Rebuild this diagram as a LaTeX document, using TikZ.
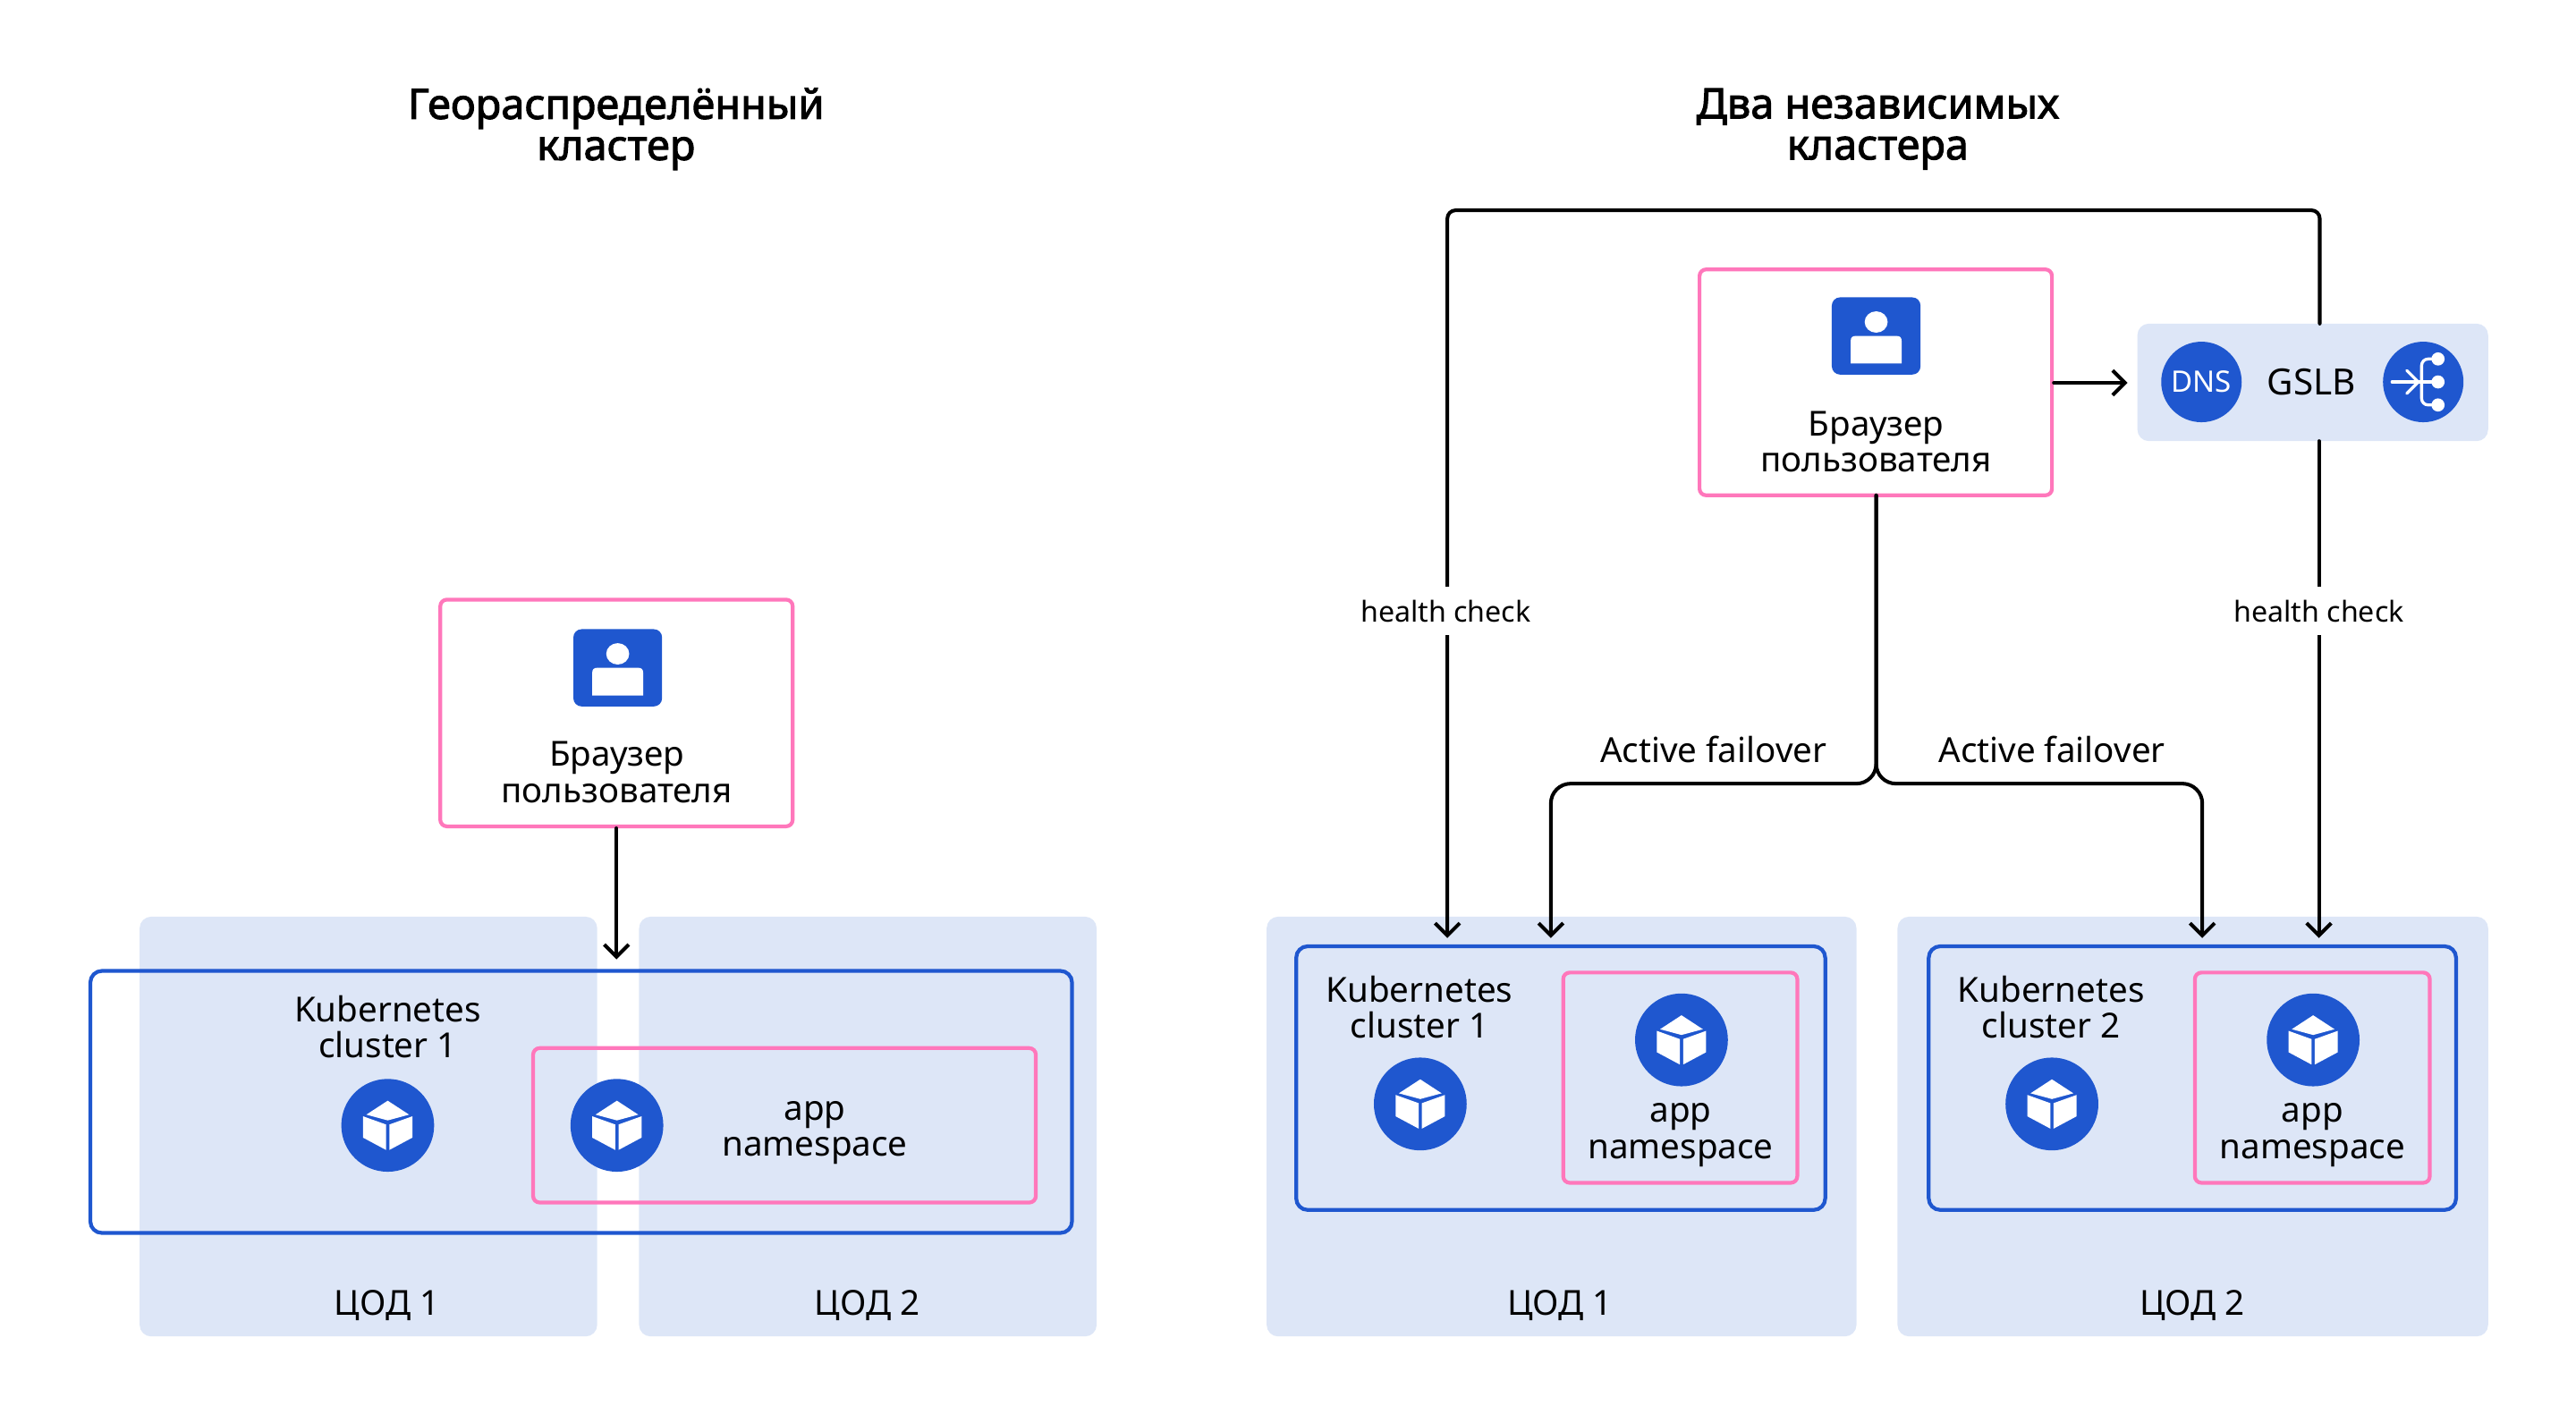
\documentclass[tikz,border=0pt]{standalone}
\usepackage{fontspec}
\setmainfont{Noto Sans}
\newfontfamily\titlefont[FakeBold=2.2]{Noto Sans}
\usetikzlibrary{arrows.meta}
\definecolor{ycblue}{HTML}{1F57CF}
\definecolor{ycpink}{HTML}{FF77BB}
\definecolor{ycpale}{HTML}{DDE6F7}
\tikzset{
  x=1pt,y=-1pt,
  lbl/.style={align=center,inner sep=0pt,font=\fontsize{21}{22}\selectfont},
  ttl/.style={align=center,inner sep=0pt,font=\titlefont\fontsize{25.5}{25}\selectfont},
  hc/.style={fill=white,inner xsep=0pt,inner ysep=8pt,font=\fontsize{17.5}{20}\selectfont},
  dc/.style={fill=ycpale,rounded corners=7pt,draw=none},
  bluebox/.style={draw=ycblue,line width=2.3pt,rounded corners=7pt},
  pinkbox/.style={draw=ycpink,line width=2.3pt,rounded corners=4pt},
  circ/.style={circle,fill=ycblue,minimum size=56.5pt,inner sep=0pt},
  circs/.style={circle,fill=ycblue,minimum size=49pt,inner sep=0pt},
  usericon/.style={fill=ycblue,rounded corners=5pt,minimum width=54pt,minimum height=47pt,inner sep=0pt},
  conn/.style={line width=2.2pt,line cap=round,rounded corners=12pt,-{Straight Barb[length=7.5pt,width=15pt,line width=2.2pt]}},
  cube/.pic={
    \fill[white] (0,-15) -- (13,-6.5) -- (0,-3) -- (-13,-6.5) -- cycle;
    \fill[white] (-15,-5.5) -- (-1,-0.5) -- (-1,15) -- (-15,7.5) -- cycle;
    \fill[white] (15,-5.5) -- (1,-0.5) -- (1,15) -- (15,7.5) -- cycle;
  },
  person/.pic={
    \fill[white] (0,-8.5) ellipse[x radius=7,y radius=6.5];
    \fill[white] (-15.5,16.8) -- (-15.5,3) .. controls (-15.5,1) and (-14.5,0) .. (-12.5,0) -- (12.5,0) .. controls (14.5,0) and (15.5,1) .. (15.5,3) -- (15.5,16.8) -- cycle;
  },
  lbicon/.pic={
    \draw[white,line width=1.8pt,line cap=round] (-19,0) -- (9,0);
    \draw[white,line width=1.8pt,line cap=round] (-10,-7) -- (-3,0) -- (-10,7);
    \draw[white,line width=1.8pt,rounded corners=4pt] (9,-14) -- (-1,-14) -- (-1,14) -- (9,14);
    \fill[white] (9,-14) circle[radius=4] (9,0) circle[radius=4] (9,14) circle[radius=4];
  },
}
\newcommand{\rbox}[6]{\node[#1,minimum width={#4-#3},minimum height={#6-#5},inner sep=0pt] (#2) at ({(#3+#4)/2},{(#5+#6)/2}) {};}
\begin{document}
\begin{tikzpicture}
\useasboundingbox (0,0) rectangle (1568,865.67);
% Titles
\node[ttl] (t1) at (375,78.5) {Георaспределённый\\кластер};
\node[ttl] (t2) at (1143,78.5) {Два независимых\\кластера};
% Left
\rbox{dc}{dcA}{85}{363.5}{558}{813.5}
\rbox{dc}{dcB}{389}{667.5}{558}{813.5}
\rbox{bluebox}{kA}{55}{652.5}{591}{750.5}
\rbox{pinkbox}{nsA}{324.5}{630.5}{638}{732}
\rbox{pinkbox}{userA}{268}{482.5}{365}{503}
\node[usericon] (iconA) at (376,406.5) {};
\pic at (iconA) {person};
\node[lbl] (userAt) at (375.5,470) {Браузер\\пользователя};
\coordinate (arrA) at (375.25,584);
\draw[conn] (userA.south) -- (arrA);
\node[lbl] (kAt) at (236,625) {Kubernetes\\cluster 1};
\node[circ] (cA1) at (236,685) {};
\pic at (cA1) {cube};
\node[circ] (cA2) at (375.5,685) {};
\pic at (cA2) {cube};
\node[lbl] (nsAt) at (496,689.5) {app\\namespace};
\node[lbl] (dA1) at (235.5,794.5) {ЦОД 1};
\node[lbl] (dA2) at (528,794.5) {ЦОД 2};
% Right containers
\rbox{dc}{dcC}{771}{1130}{558}{813.5}
\rbox{dc}{dcD}{1155}{1514.5}{558}{813.5}
\rbox{bluebox}{kC}{789}{1111}{576}{736.5}
\rbox{bluebox}{kD}{1174}{1495}{576}{736.5}
\rbox{pinkbox}{nsC}{951.5}{1094}{592}{720}
\rbox{pinkbox}{nsD}{1336}{1479}{592}{720}
\node[lbl] (kCt) at (864,613) {Kubernetes\\cluster 1};
\node[lbl] (kDt) at (1248.5,613) {Kubernetes\\cluster 2};
\node[circ] (cC1) at (864.5,672) {};
\pic at (cC1) {cube};
\node[circ] (cD1) at (1249,672) {};
\pic at (cD1) {cube};
\node[circ] (cC2) at (1023.5,633) {};
\pic at (cC2) {cube};
\node[circ] (cD2) at (1408,633) {};
\pic at (cD2) {cube};
\node[lbl] (nsCt) at (1023,691) {app\\namespace};
\node[lbl] (nsDt) at (1407.5,691) {app\\namespace};
\node[lbl] (dC) at (949.5,794.5) {ЦОД 1};
\node[lbl] (dD) at (1334.5,794.5) {ЦОД 2};
% User + GSLB
\rbox{pinkbox}{userB}{1034.5}{1249}{164}{301.5}
\node[usericon] (iconB) at (1142,204.5) {};
\pic at (iconB) {person};
\node[lbl] (userBt) at (1142,269) {Браузер\\пользователя};
\rbox{dc}{gslb}{1301}{1514.5}{197}{268.5}
\node[circs,text=white,font=\fontsize{18}{20}\selectfont] (dns) at (1340,232.5) {DNS};
\node[lbl,font=\fontsize{22}{24}\selectfont] (gslbt) at (1407,232.5) {GSLB};
\node[circs] (lb) at (1475,232.5) {};
\pic at (lb) {lbicon};
% Connectors
\coordinate (arrG) at (1295,233);
\draw[conn] (userB.east |- arrG) -- (arrG);
\coordinate (gTop) at (1412,197);
\coordinate (gBot) at (1411.5,268.5);
\coordinate (hc1) at (881,571);
\coordinate (hc2) at (1411.5,571);
\coordinate (af1) at (944,571);
\coordinate (af2) at (1340.5,571);
\coordinate (uS) at (1142,301.5);
\draw[conn,rounded corners=5pt] (gTop) -- (1412,128) -- (881,128) -- (hc1);
\draw[conn] (gBot) -- (hc2);
\draw[conn] (uS) -- (1142,477) -- (944,477) -- (af1);
\draw[conn] (uS) -- (1142,477) -- (1340.5,477) -- (af2);
\node[hc] (hcL) at (880,372) {health check};
\node[hc] (hcR) at (1411.5,372) {health check};
\node[lbl] (afL) at (1043,456) {Active failover};
\node[lbl] (afR) at (1249,456) {Active failover};
\end{tikzpicture}
\end{document}
